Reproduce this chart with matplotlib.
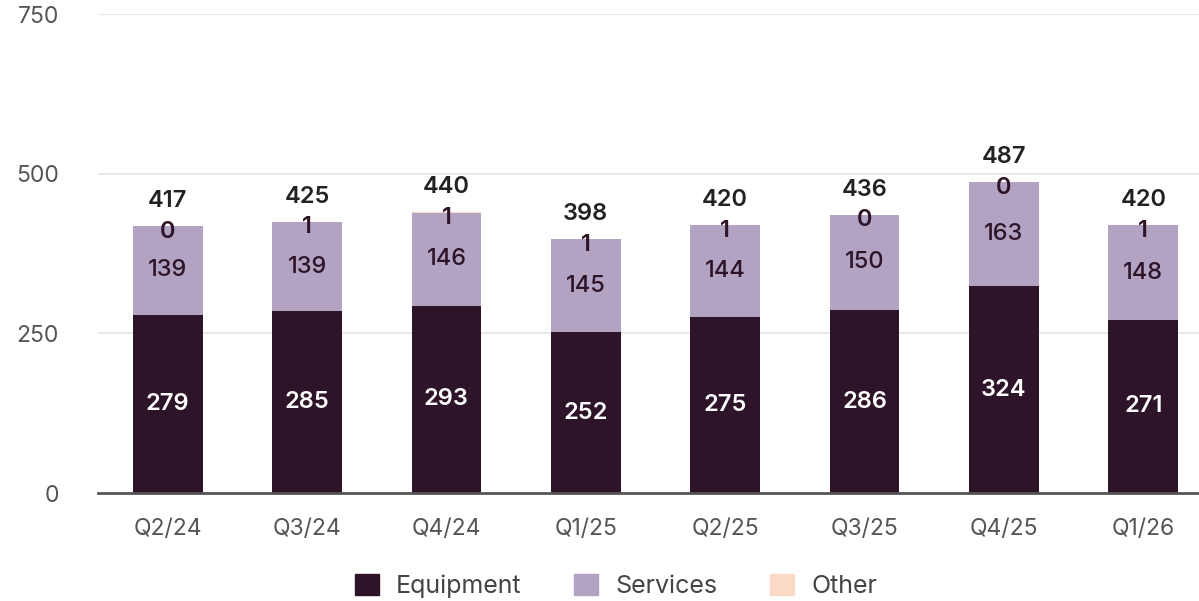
import matplotlib
matplotlib.use("Agg")
import matplotlib.pyplot as plt
from matplotlib.patches import Patch
import numpy as np

plt.rcParams['font.family'] = ['Inter', 'DejaVu Sans']

categories = ["Q2/24", "Q3/24", "Q4/24", "Q1/25", "Q2/25", "Q3/25", "Q4/25", "Q1/26"]
equipment = [279, 285, 293, 252, 275, 286, 324, 271]
services = [139, 139, 146, 145, 144, 150, 163, 148]
other = [0, 1, 1, 1, 1, 0, 0, 1]
totals = [417, 425, 440, 398, 420, 436, 487, 420]
yticks = [0, 250, 500, 750]

c_eq = "#2d1428"
c_sv = "#b2a3c3"
c_ot = "#fcd9c7"
c_txt = "#2d1428"

fig = plt.figure(figsize=(11.99, 6.01), dpi=100)
ax = fig.add_axes([98/1199, 1-493/601, 1-98/1199, (493-14)/601])

x = np.arange(len(categories))
w = 0.5
eq = np.array(equipment); sv = np.array(services); ot = np.array(other)
ax.bar(x, eq, w, color=c_eq, zorder=3)
ax.bar(x, sv, w, bottom=eq, color=c_sv, zorder=3)
ax.bar(x, ot, w, bottom=eq+sv, color=c_ot, zorder=3)

fs = 17
for i in range(len(x)):
    ax.text(x[i], eq[i]/2, str(equipment[i]), ha='center', va='center', color='white',
            fontsize=fs, fontweight='semibold', zorder=4)
    ax.text(x[i], eq[i] + sv[i]/2, str(services[i]), ha='center', va='center', color=c_txt,
            fontsize=fs, fontweight='medium', zorder=4)
    top = eq[i] + sv[i] + ot[i]
    ax.text(x[i], top - 9, str(other[i]), ha='center', va='center', color=c_txt,
            fontsize=fs, fontweight='semibold', zorder=4)
    ax.text(x[i], top + 39, str(totals[i]), ha='center', va='center', color='#222222',
            fontsize=fs, fontweight='semibold', zorder=4)

ax.set_xlim(-0.5, 7.4)
ax.set_ylim(0, 750)
ax.set_yticks(yticks)
ax.set_yticklabels([str(t) for t in yticks])
ax.set_xticks(x)
ax.set_xticklabels(categories)
ax.tick_params(axis='y', length=0, pad=28, labelsize=16.5, labelcolor='#555555')
ax.tick_params(axis='x', length=0, pad=18, labelsize=16.5, labelcolor='#555555')
ax.grid(axis='y', color='#e6e6e6', linewidth=1.3, zorder=0)
ax.set_axisbelow(True)
for s in ['top', 'right', 'left']:
    ax.spines[s].set_visible(False)
ax.spines['bottom'].set_color('#555555')
ax.spines['bottom'].set_linewidth(2)
ax.spines['bottom'].set_zorder(5)
ax.yaxis.get_gridlines()[0].set_visible(False)

handles = [Patch(color=c_eq, label="Equipment"), Patch(color=c_sv, label="Services"),
           Patch(color=c_ot, label="Other")]
fig.legend(handles=handles, loc='center', bbox_to_anchor=(616/1199, 1-586/601), ncol=3,
           frameon=False, fontsize=18, handlelength=0.95, handleheight=0.95,
           columnspacing=2.1, handletextpad=0.7, labelcolor='#444444')

fig.savefig("out.png", dpi=100)
